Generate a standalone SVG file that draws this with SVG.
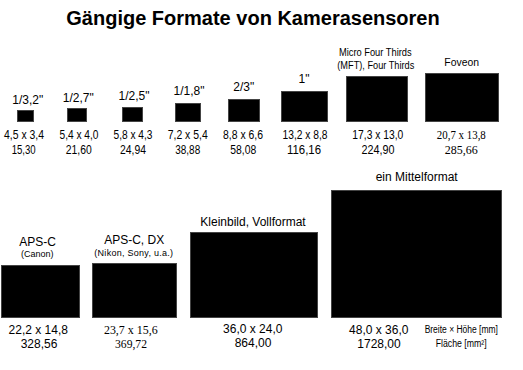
<svg xmlns="http://www.w3.org/2000/svg" width="523" height="370" viewBox="0 0 523 370">
<style>
.s{fill:#000;stroke:#444;stroke-width:1}
text{font-family:"Liberation Sans",Arial,sans-serif;fill:#000;text-anchor:middle}
.t{font-size:20px;font-weight:bold}
.l{font-size:12px}
.n{font-size:13px}
.c{font-size:10px}
.sm{font-size:9px}
.sr{font-family:"Liberation Serif","Times New Roman",serif;font-size:13px}
</style>
<rect width="523" height="370" fill="#fff"/>
<text class="t" x="253" y="25">Gängige Formate von Kamerasensoren</text>

<g id="s1">
<rect class="s" x="17.5" y="110.5" width="16" height="11"/>
<text class="l" x="27.8" y="104">1/3,2"</text>
<text class="n" x="24" y="139.3" textLength="40" lengthAdjust="spacingAndGlyphs">4,5 x 3,4</text>
<text class="n" x="23.7" y="154.3" textLength="24" lengthAdjust="spacingAndGlyphs">15,30</text>
</g>
<g id="s2">
<rect class="s" x="67.5" y="108.5" width="19" height="13"/>
<text class="l" x="78.2" y="102.3">1/2,7"</text>
<text class="n" x="79" y="139.3" textLength="39" lengthAdjust="spacingAndGlyphs">5,4 x 4,0</text>
<text class="n" x="78.7" y="154.3" textLength="26" lengthAdjust="spacingAndGlyphs">21,60</text>
</g>
<g id="s3">
<rect class="s" x="122.5" y="107.5" width="20" height="14"/>
<text class="l" x="134" y="100">1/2,5"</text>
<text class="n" x="133" y="139.3" textLength="39" lengthAdjust="spacingAndGlyphs">5,8 x 4,3</text>
<text class="n" x="133" y="154.3" textLength="26" lengthAdjust="spacingAndGlyphs">24,94</text>
</g>
<g id="s4">
<rect class="s" x="175.5" y="103.5" width="25" height="18"/>
<text class="l" x="189" y="95.3">1/1,8"</text>
<text class="n" x="187.7" y="139.3" textLength="40" lengthAdjust="spacingAndGlyphs">7,2 x 5,4</text>
<text class="n" x="187.7" y="154.3" textLength="25" lengthAdjust="spacingAndGlyphs">38,88</text>
</g>
<g id="s5">
<rect class="s" x="228.5" y="99.5" width="31" height="22"/>
<text class="l" x="243.8" y="90.7">2/3"</text>
<text class="n" x="243" y="139.3" textLength="40" lengthAdjust="spacingAndGlyphs">8,8 x 6,6</text>
<text class="n" x="243.3" y="154.3" textLength="26" lengthAdjust="spacingAndGlyphs">58,08</text>
</g>
<g id="s6">
<rect class="s" x="281.5" y="91.5" width="46" height="30"/>
<text class="l" x="304" y="83.3">1"</text>
<text class="n" x="305" y="139.3" textLength="45" lengthAdjust="spacingAndGlyphs">13,2 x 8,8</text>
<text class="n" x="304" y="154.3" textLength="34" lengthAdjust="spacingAndGlyphs">116,16</text>
</g>
<g id="s7">
<rect class="s" x="346.5" y="76.5" width="61" height="45"/>
<text class="c" x="375.3" y="56" textLength="72.7" lengthAdjust="spacingAndGlyphs">Micro Four Thirds</text>
<text class="c" x="375.8" y="69.3" textLength="77" lengthAdjust="spacingAndGlyphs">(MFT), Four Thirds</text>
<text class="n" x="377.8" y="139.3" textLength="51" lengthAdjust="spacingAndGlyphs">17,3 x 13,0</text>
<text class="n" x="378" y="154.3" textLength="33" lengthAdjust="spacingAndGlyphs">224,90</text>
</g>
<g id="s8">
<rect class="s" x="425.5" y="73.5" width="73" height="48"/>
<text class="c" x="461.7" y="66" textLength="34.7" lengthAdjust="spacingAndGlyphs" style="font-size:11px">Foveon</text>
<text class="sr" x="461.3" y="139.3" textLength="49" lengthAdjust="spacingAndGlyphs">20,7 x 13,8</text>
<text class="sr" x="461.3" y="154.3" textLength="33" lengthAdjust="spacingAndGlyphs">285,66</text>
</g>

<g id="apsc">
<rect class="s" x="1.5" y="265.5" width="78" height="52"/>
<text class="l" x="37.7" y="246">APS-C</text>
<text class="sm" x="37.3" y="257.3">(Canon)</text>
<text class="l" x="38.3" y="334.3">22,2 x 14,8</text>
<text class="l" x="39" y="348.3">328,56</text>
</g>
<g id="apscdx">
<rect class="s" x="92.5" y="263.5" width="84" height="54"/>
<text class="l" x="134.2" y="244">APS-C, DX</text>
<text class="sm" x="133.7" y="255.7" textLength="78.7" lengthAdjust="spacing">(Nikon, Sony, u.a.)</text>
<text class="sr" x="130.8" y="334.3" textLength="53.7" lengthAdjust="spacingAndGlyphs">23,7 x 15,6</text>
<text class="sr" x="131" y="348.3" textLength="32" lengthAdjust="spacingAndGlyphs">369,72</text>
</g>
<g id="kb">
<rect class="s" x="190.5" y="232.5" width="127" height="85"/>
<text class="l" x="253" y="225.7">Kleinbild, Vollformat</text>
<text class="l" x="252.8" y="332.7">36,0 x 24,0</text>
<text class="l" x="253" y="347.3">864,00</text>
</g>
<g id="mf">
<rect class="s" x="331.5" y="190.5" width="170" height="127"/>
<text class="l" x="416.7" y="181">ein Mittelformat</text>
<text class="l" x="378.8" y="334">48,0 x 36,0</text>
<text class="l" x="379" y="348.3">1728,00</text>
</g>
<g id="legend">
<text class="c" x="461.3" y="332.7" textLength="73.3" lengthAdjust="spacingAndGlyphs">Breite × Höhe [mm]</text>
<text class="c" x="461.2" y="347.3" textLength="51" lengthAdjust="spacingAndGlyphs">Fläche [mm²]</text>
</g>
<g id="connectors"/>
</svg>
